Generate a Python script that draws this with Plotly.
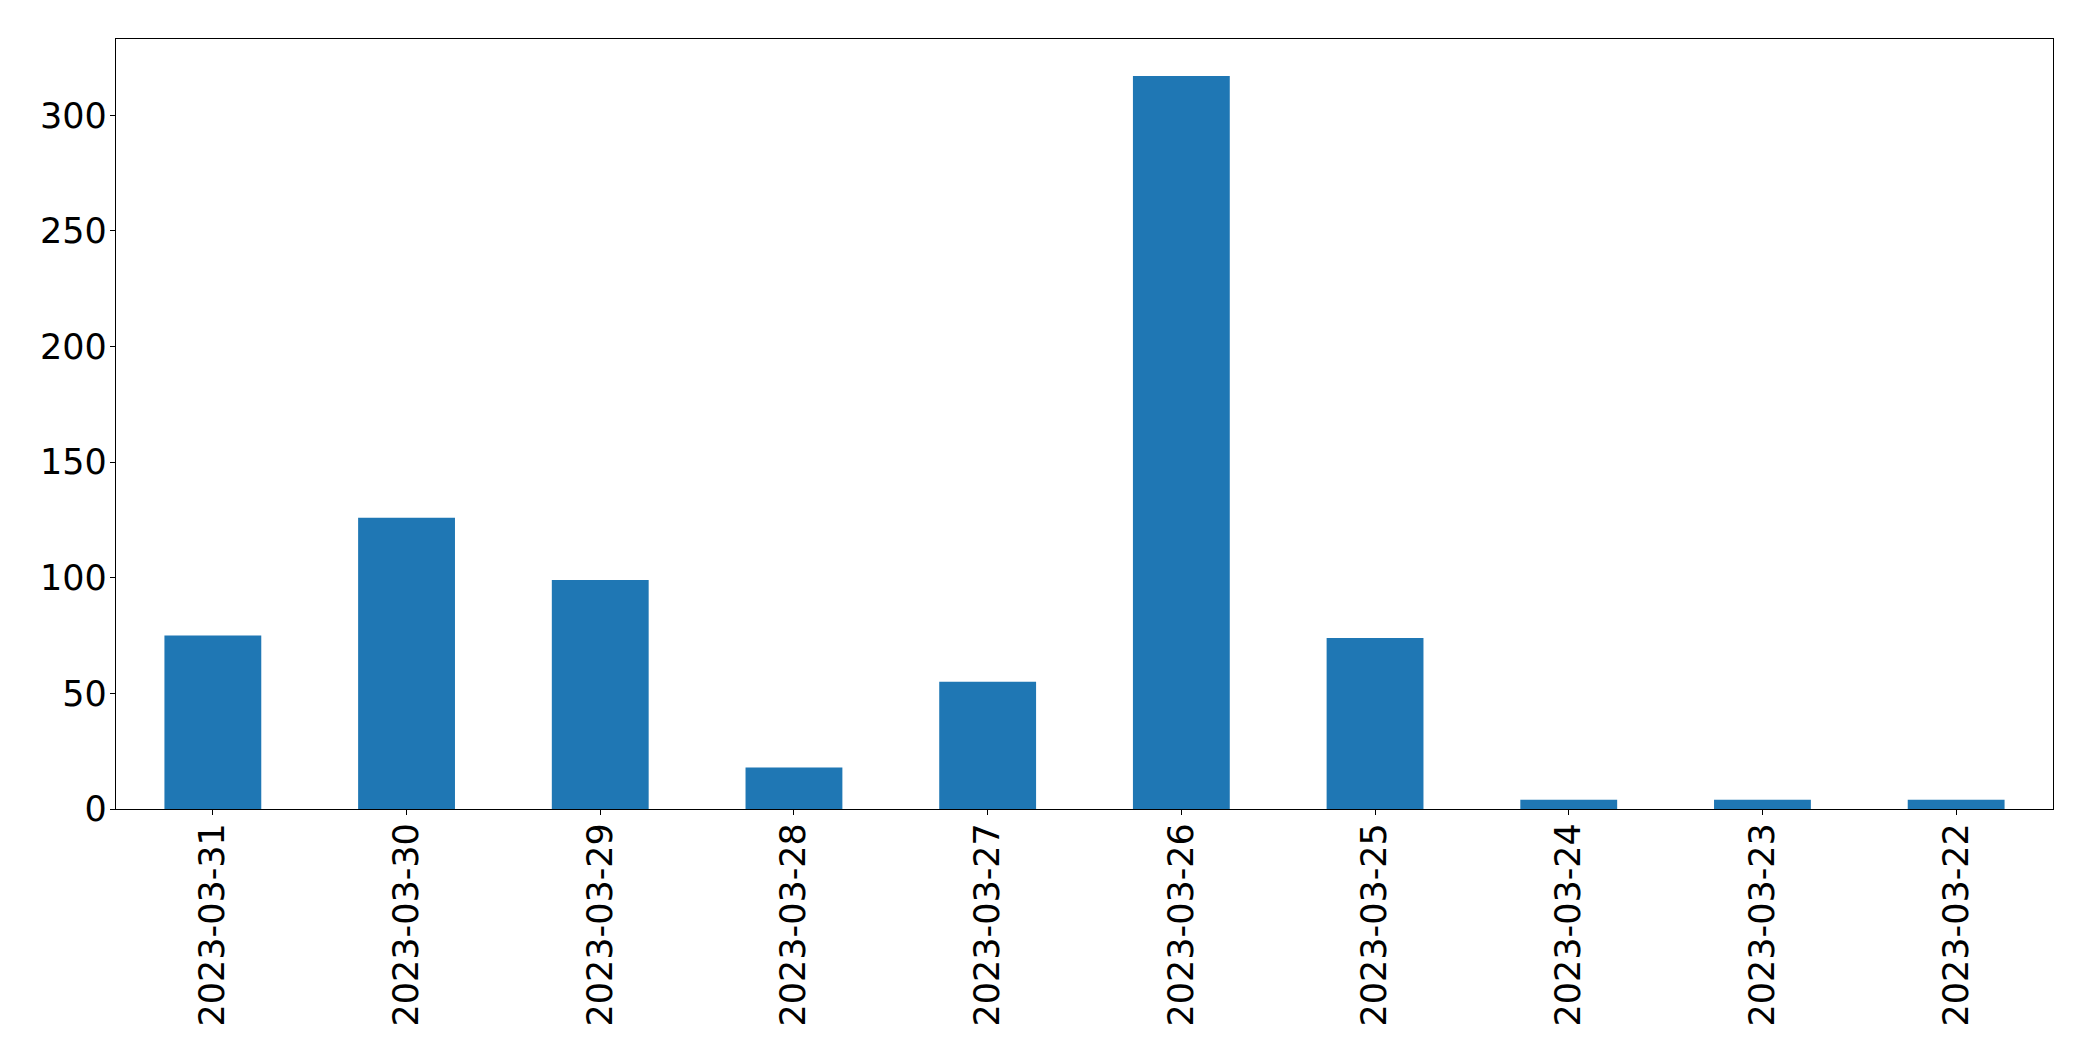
import plotly.graph_objects as go

dates = ["2023-03-31", "2023-03-30", "2023-03-29", "2023-03-28", "2023-03-27",
         "2023-03-26", "2023-03-25", "2023-03-24", "2023-03-23", "2023-03-22"]
counts = [75, 126, 99, 18, 55, 317, 74, 4, 4, 4]
y_ticks = [0, 50, 100, 150, 200, 250, 300]

fig = go.Figure(go.Bar(x=dates, y=counts, width=0.5, marker=dict(color="#1f77b4", line=dict(width=0))))

font = dict(family="DejaVu Sans", size=35, color="black")
fig.update_layout(
    width=2085, height=1053,
    margin=dict(l=108, r=40, t=31, b=252),
    plot_bgcolor="white", paper_bgcolor="white",
    showlegend=False, font=font,
)
fig.update_xaxes(
    type="category", range=[-0.5, 9.5], tickangle=-90,
    showline=True, linecolor="black", linewidth=1.3, mirror=True,
    ticks="outside", ticklen=5, tickwidth=1.3, tickcolor="black",
    showgrid=False, tickfont=font, ticklabelstandoff=-6,
)
fig.update_yaxes(
    range=[0, 333], tickvals=y_ticks,
    showline=True, linecolor="black", linewidth=1.3, mirror=True,
    ticks="outside", ticklen=5, tickwidth=1.3, tickcolor="black",
    showgrid=False, zeroline=False, tickfont=font, ticklabelstandoff=-4,
)
fig.write_html("out.html")
